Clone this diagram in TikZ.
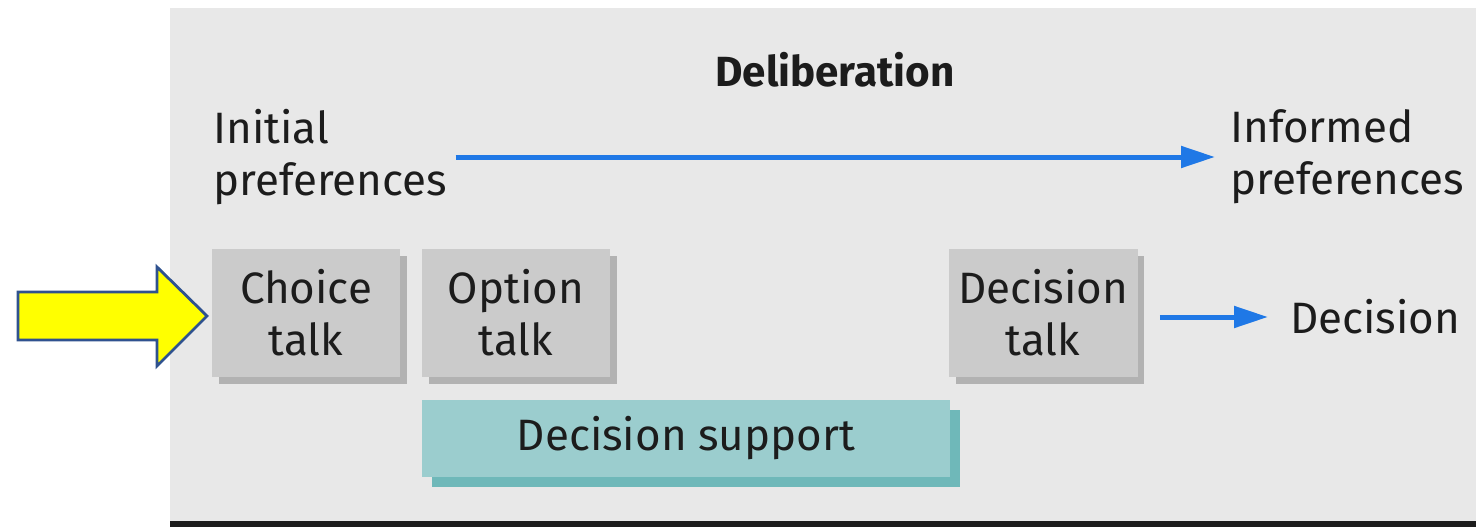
\documentclass[tikz,border=0pt]{standalone}
\usepackage{fontspec}
\setmainfont{Fira Sans}
\usetikzlibrary{arrows.meta,shadows}

\definecolor{panelgrey}{HTML}{E8E8E8}
\definecolor{boxgrey}{HTML}{CBCBCB}
\definecolor{boxshade}{HTML}{B2B2B2}
\definecolor{tealbox}{HTML}{9BCDCE}
\definecolor{tealshade}{HTML}{6FB8B9}
\definecolor{flowblue}{HTML}{1F78E6}
\definecolor{inkdark}{HTML}{1C1C1C}
\definecolor{pointeryellow}{HTML}{FFFF00}
\definecolor{pointerblue}{HTML}{2F528F}

\tikzset{
  label text/.style={inner sep=0pt, text=inkdark, font=\fontsize{25}{29.5}\selectfont},
  talkbox/.style={label text, fill=boxgrey, align=center,
    minimum width=3.78cm, minimum height=2.56cm,
    drop shadow={shadow xshift=0.14cm, shadow yshift=-0.14cm,
      fill=boxshade, opacity=1}},
  supportbox/.style={label text, fill=tealbox,
    minimum width=10.56cm, minimum height=1.54cm,
    drop shadow={shadow xshift=0.2cm, shadow yshift=-0.2cm,
      fill=tealshade, opacity=1}},
  flow/.style={draw=flowblue, line width=0.1cm,
    -{Triangle[length=0.68cm, width=0.42cm]}},
  pointer/.style={draw=pointerblue, line width=1.6pt, fill=pointeryellow, line join=miter},
}

\begin{document}
\begin{tikzpicture}[x=0.02cm, y=-0.02cm]
  \useasboundingbox (0,0) rectangle (1476,527);

  % panel and its dark bottom edge
  \fill[panelgrey] (170,8) rectangle (1476,521);
  \fill[inkdark] (170,521) rectangle (1476,527);

  % heading
  \node[label text, font=\fontsize{24}{28}\selectfont\bfseries] (delib) at (835,70) {Deliberation};

  % preferences row
  \node[label text, anchor=west, text width=4.58cm, align=left] (init) at (213,157) {Initial\\preferences};
  \node[label text, anchor=west, align=left] (inform) at (1230,157) {Informed\\preferences};
  \draw[flow, shorten <=0.26cm, shorten >=0.3cm] (init) -- (inform);

  % talk steps
  \node[talkbox] (choice) at (306,313) {Choice\\talk};
  \node[talkbox] (option) at (516,313) {Option\\talk};
  \node[talkbox] (dtalk) at (1043,313) {Decision\\talk};
  \node[supportbox] (support) at (686,438.5) {Decision support};

  % outcome
  \node[label text, anchor=west] (decision) at (1290,317) {Decision};
  \draw[flow, shorten <=0.44cm, shorten >=0.44cm] (dtalk.east |- decision.west) -- (decision.west);

  % block arrow pointing at the first step
  \draw[pointer] (18,292) -- (157,292) -- (157,267) -- (207,316)
    -- (157,366) -- (157,340) -- (18,340) -- cycle;
\end{tikzpicture}
\end{document}
